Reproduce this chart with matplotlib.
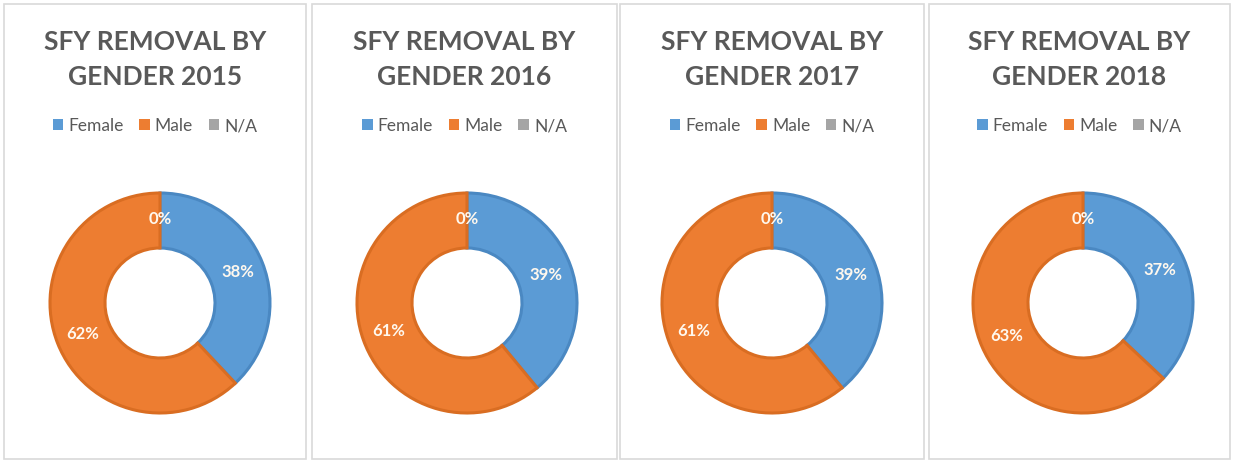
import matplotlib
matplotlib.use("Agg")
import matplotlib.pyplot as plt
from matplotlib.patches import Rectangle, Patch

plt.rcParams['font.family'] = ['Lato', 'DejaVu Sans']

years = ["2015", "2016", "2017", "2018"]
categories = ["Female", "Male", "N/A"]
female = [38, 39, 39, 37]
male = [62, 61, 61, 63]
na = [0, 0, 0, 0]

colors = ["#5B9BD5", "#ED7D31", "#A5A5A5"]
edges = ["#4A88C2", "#D96D22", "none"]
title_color = "#595959"

W, H = 1233, 463
fig = plt.figure(figsize=(W / 100, H / 100), dpi=100)

# panel boxes in pixels (left, right)
panels = [(4, 306), (312, 617), (620, 924), (929, 1230)]
centers_x = [160, 467, 772, 1083]
center_y = 303
radius_px = 110

for i, yr in enumerate(years):
    x0, x1 = panels[i]
    fig.patches.append(Rectangle((x0 / W, 4 / H), (x1 - x0) / W, (H - 8) / H,
                                 transform=fig.transFigure, fill=False,
                                 edgecolor="#D9D9D9", linewidth=1.2))
    cx = (x0 + x1) / 2
    fig.text(cx / W, 1 - 42 / H, "SFY REMOVAL BY", ha="center", va="center",
             fontsize=19, fontweight="bold", color=title_color)
    fig.text(cx / W, 1 - 77 / H, "GENDER " + yr, ha="center", va="center",
             fontsize=19, fontweight="bold", color=title_color)

    size = 2.4 * radius_px
    ax = fig.add_axes([(centers_x[i] - size / 2) / W, (H - center_y - size / 2) / H,
                       size / W, size / H])
    vals = [female[i], male[i], na[i]]
    wedges, _, autotexts = ax.pie(vals, colors=colors, startangle=90, counterclock=False,
                                  autopct='%1.0f%%', pctdistance=0.76,
                                  wedgeprops=dict(width=0.5, linewidth=2.2))
    for w, ec in zip(wedges, edges):
        w.set_edgecolor(ec)
    for t in autotexts:
        t.set_color("#FFF8EE")
        t.set_fontsize(12)
        t.set_fontweight("bold")
    ax.set_xlim(-1.2, 1.2)
    ax.set_ylim(-1.2, 1.2)
    ax.set_aspect("equal")
    ax.axis("off")

    handles = [Patch(facecolor=c, edgecolor="none") for c in colors]
    fig.legend(handles, categories, loc="center", bbox_to_anchor=(cx / W, 1 - 126 / H),
               ncol=3, frameon=False, fontsize=12.5, labelcolor=title_color,
               handlelength=0.6, handleheight=0.6, handletextpad=0.3, columnspacing=0.9)

fig.savefig("out.png", dpi=100, facecolor="white")
